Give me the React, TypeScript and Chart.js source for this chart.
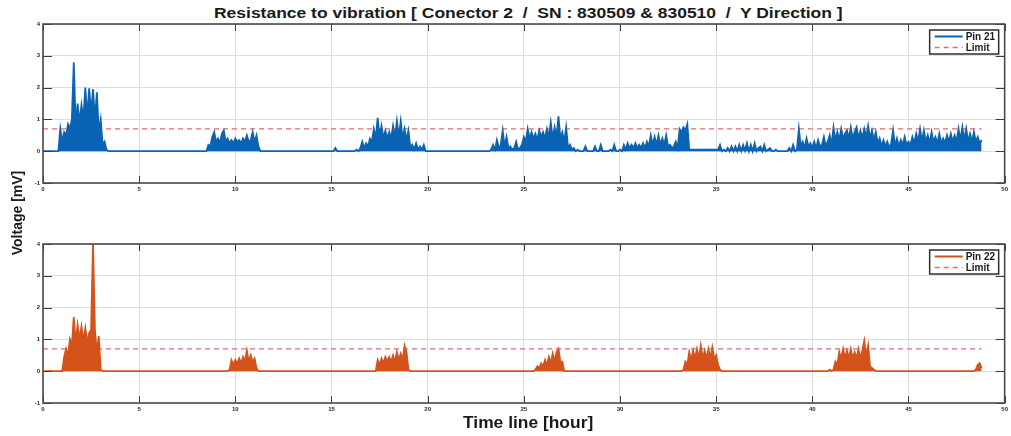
import React, { useEffect, useLayoutEffect, useRef } from "react";
import { Chart, registerables } from "chart.js";

Chart.register(...registerables);

const FONT = '"Liberation Sans", Arial, Helvetica, sans-serif';

const TITLE = "Resistance to vibration [ Conector 2  /  SN : 830509 & 830510  /  Y Direction ]";
const Y_LABEL = "Voltage [mV]";
const X_LABEL = "Time line [hour]";

const HOURS_MIN = 0;
const HOURS_MAX = 50;
const HOURS_STEP = 5;
const MV_MIN = -1;
const MV_MAX = 4;
const MV_STEP = 1;

const LIMIT_MV = 0.7;
const TEST_END_H = 48.8;
const SAMPLE_H = 0.1; // readings inside an active stretch are 0.1 h apart (peak / floor pairs)

const PIN21_LABEL = "Pin 21";
const PIN22_LABEL = "Pin 22";
const LIMIT_LABEL = "Limit";

// Pin 21 readings in mV
const pin21Run1: number[] = [0, 0.7, 0.3, 0.6, 0.5, 0.85, 0.7, 1.0, 2.8, 0.8, 1.5, 0.9, 1.45, 1.0, 2.0, 1.1, 1.98, 1.2, 1.95, 1.0, 1.85, 0.6, 1.0, 0.2, 0.3, 0.05, 0];
const pin21Run2: number[] = [0, 0.2, 0.15, 0.45, 0.6, 0.3, 0.4, 0.25, 0.55, 0.65, 0.3, 0.4, 0.25, 0.35, 0.25, 0.4, 0.3, 0.35, 0.25, 0.4, 0.3, 0.5, 0.3, 0.35, 0.6, 0.3, 0.5, 0.15, 0];
const pin21Blip: number[] = [0, 0.1, 0];
const pin21Run3: number[] = [0, 0.05, 0, 0.1, 0.3, 0.1, 0.25, 0.15, 0.4, 0.3, 0.7, 0.4, 1.05, 0.45, 0.8, 0.4, 0.65, 0.4, 0.6, 0.4, 0.8, 0.45, 0.95, 0.45, 0.95, 0.4, 0.7, 0.35, 0.65, 0.1, 0.2, 0.05, 0.25, 0.05, 0.15, 0.05, 0.2, 0];
const pin21Run4: number[] = [
  0, 0.05, 0.2, 0.05, 0.35, 0.1, 0.2, 0.65,
  0.15, 0.45, 0.1, 0.15, 0.05, 0.1, 0.3, 0.05, 0.1, 0.2,
  0.45, 0.3, 0.7, 0.4, 0.6, 0.4, 0.55, 0.35, 0.65, 0.45,
  0.6, 0.4, 0.7, 0.45, 0.9, 0.4, 0.75, 0.45, 1.1, 0.4,
  0.6, 0.3, 0.75, 0.1, 0.2, 0.05, 0.1, 0, 0.05, 0,
];
const pin21Run5: number[] = [
  0, 0, 0.15, 0, 0, 0, 0, 0.15, 0, 0,
  0.2, 0, 0, 0, 0, 0.05, 0, 0.2, 0, 0,
  0.05, 0, 0.2, 0.05, 0.25, 0.1, 0.2, 0.1, 0.25, 0.1,
  0.2, 0.1, 0.25, 0.1, 0.3, 0.15, 0.5, 0.2, 0.45, 0.2,
  0.5, 0.2, 0.4, 0.2, 0.5, 0.15, 0.2, 0.1, 0.15, 0.3,
];
const pin21Run6: number[] = [
  0.1, 0.7, 0.6, 0.75, 0.65, 0.85, 0.05, 0.05, 0.05, 0.05,
  0.05, 0.05, 0.05, 0.05, 0.05, 0.05, 0.05, 0.05, 0.05, 0.05,
  0.05, 0.05, 0.2, 0, 0.05, 0, 0.1, 0, 0.15, 0,
  0.15, 0, 0.2, 0, 0.2, 0.02, 0.25, 0, 0.2, 0,
  0.25, 0, 0.1, 0.15, 0, 0.2, 0, 0.05, 0.1, 0,
  0, 0.05, 0, 0, 0, 0, 0, 0, 0.1, 0,
];
const pin21Run7: number[] = [
  0.2, 0, 0.05, 0.7, 0.15, 0.3, 0.1, 0.4, 0.15, 0.25,
  0.1, 0.3, 0.1, 0.35, 0.15, 0.2, 0.45, 0.15, 0.3, 0.5,
  0.2, 0.75, 0.35, 0.6, 0.35, 0.7, 0.4, 0.55, 0.65, 0.4,
  0.75, 0.4, 0.6, 0.75, 0.4, 0.65, 0.4, 0.7, 0.45, 0.8,
  0.4, 0.65, 0.35, 0.6, 0.25, 0.4, 0.15, 0.35, 0.15, 0.3,
  0.1, 0.25, 0.65, 0.15, 0.4, 0.15, 0.35, 0.2, 0.45, 0.2,
  0.3, 0.2, 0.45, 0.25, 0.55, 0.3, 0.7, 0.3, 0.65, 0.3,
  0.5, 0.25, 0.6, 0.3, 0.45, 0.25, 0.55, 0.25, 0.4, 0.25,
  0.5, 0.3, 0.55, 0.3, 0.5, 0.3, 0.7, 0.35, 0.75, 0.35,
  0.7, 0.3, 0.55, 0.3, 0.6, 0.3, 0.45, 0.25, 0.35,
];

// Pin 22 readings in mV
const pin22Run1: number[] = [0, 0.45, 0.7, 0.5, 1.0, 0.8, 1.7, 0.9, 1.45, 1.0, 1.4, 0.95, 1.35, 0.9, 1.2, 1.3, 4.0, 1.3, 0.6, 1.1, 0.05, 0];
const pin22Run2: number[] = [0, 0.05, 0.35, 0.2, 0.35, 0.25, 0.4, 0.25, 0.45, 0.3, 0.65, 0.3, 0.5, 0.3, 0.4, 0.1, 0];
const pin22Run3: number[] = [0, 0.35, 0.2, 0.4, 0.25, 0.45, 0.3, 0.45, 0.3, 0.5, 0.3, 0.6, 0.35, 0.55, 0.35, 0.8, 0.6, 0.05, 0];
const pin22Run4: number[] = [0, 0.05, 0.15, 0.1, 0.25, 0.15, 0.35, 0.2, 0.45, 0.25, 0.55, 0.3, 0.6, 0.7, 0.3, 0.3, 0];
const pin22Run5: number[] = [0, 0.05, 0.3, 0.2, 0.6, 0.35, 0.65, 0.4, 0.7, 0.4, 0.8, 0.4, 0.65, 0.4, 0.7, 0.4, 0.75, 0.4, 0.5, 0.2, 0.05, 0];
const pin22Run6: number[] = [0, 0.05, 0, 0.05, 0.3, 0.2, 0.6, 0.4, 0.7, 0.4, 0.65, 0.4, 0.7, 0.4, 0.6, 0.4, 0.7, 0.4, 0.65, 0.95, 0.45, 0.8, 0.15, 0.1, 0.05, 0];
const pin22Run7: number[] = [0, 0.05, 0.2, 0.25, 0.1];

type Run = [number, number[]];

// [start hour, readings]
const pin21Runs: Run[] = [
  [0.8, pin21Run1],
  [8.5, pin21Run2],
  [15.1, pin21Blip],
  [16.2, pin21Run3],
  [23.2, pin21Run4],
  [28.0, pin21Run5],
  [33.0, pin21Run6],
  [39.0, pin21Run7],
];

const pin22Runs: Run[] = [
  [1.0, pin22Run1],
  [9.6, pin22Run2],
  [17.3, pin22Run3],
  [25.5, pin22Run4],
  [33.2, pin22Run5],
  [40.8, pin22Run6],
  [48.4, pin22Run7],
];

const PIN21_COLOR = "#0a63b3";
const PIN22_COLOR = "#d5531a";
const LIMIT_COLOR = "#e36b6b";

function toPoints(runs: Run[]) {
  const pts: { x: number; y: number }[] = [{ x: HOURS_MIN, y: 0 }];
  runs.forEach(([start, readings]) => {
    readings.forEach((mv, i) => {
      pts.push({ x: +(start + i * SAMPLE_H).toFixed(2), y: mv });
    });
  });
  const last = pts[pts.length - 1];
  if (last.x < TEST_END_H) pts.push({ x: TEST_END_H, y: 0 });
  return pts;
}

// Boxed axes with inward ticks and an in-plot legend, drawn over the data.
const boxPlugin = {
  id: "boxedAxes",
  afterDatasetsDraw(chart: any, _args: any, opts: any) {
    const { ctx, chartArea: a, scales } = chart;
    ctx.save();

    ctx.strokeStyle = "#3a3a3a";
    ctx.lineWidth = 1;
    ctx.beginPath();
    for (let h = HOURS_MIN; h <= HOURS_MAX; h += HOURS_STEP) {
      const px = Math.round(scales.x.getPixelForValue(h)) + 0.5;
      ctx.moveTo(px, a.bottom);
      ctx.lineTo(px, a.bottom - 7);
      ctx.moveTo(px, a.top);
      ctx.lineTo(px, a.top + 7);
    }
    for (let v = MV_MIN; v <= MV_MAX; v += MV_STEP) {
      const py = Math.round(scales.y.getPixelForValue(v)) + 0.5;
      ctx.moveTo(a.left, py);
      ctx.lineTo(a.left + 9, py);
      ctx.moveTo(a.right, py);
      ctx.lineTo(a.right - 9, py);
    }
    ctx.stroke();

    ctx.lineWidth = 1.6;
    ctx.strokeStyle = "#4a4a4a";
    ctx.strokeRect(a.left, a.top, a.right - a.left, a.bottom - a.top);

    const w = 69;
    const h = 24;
    const x0 = a.right - 6 - w;
    const y0 = a.top + 6;
    ctx.fillStyle = "#ffffff";
    ctx.fillRect(x0, y0, w, h);
    ctx.lineWidth = 1.5;
    ctx.strokeStyle = "#2e2e2e";
    ctx.strokeRect(x0, y0, w, h);

    const rows = [
      { text: opts.label, color: opts.color, dash: [] as number[], width: 2 },
      { text: LIMIT_LABEL, color: LIMIT_COLOR, dash: [5, 4], width: 1.5 },
    ];
    ctx.font = `bold 10px ${FONT}`;
    ctx.textBaseline = "middle";
    ctx.textAlign = "left";
    rows.forEach((r, i) => {
      const yy = y0 + 6.5 + i * 11;
      ctx.beginPath();
      ctx.setLineDash(r.dash);
      ctx.strokeStyle = r.color;
      ctx.lineWidth = r.width;
      ctx.moveTo(x0 + 5, yy);
      ctx.lineTo(x0 + 33, yy);
      ctx.stroke();
      ctx.setLineDash([]);
      ctx.fillStyle = "#1a1a1a";
      ctx.fillText(r.text, x0 + 36, yy + 0.5);
    });

    ctx.restore();
  },
};

const tickFont = { family: FONT, size: 6, weight: "bold" as const };

function PinPanel({ top, label, color, runs }: { top: number; label: string; color: string; runs: Run[] }) {
  const ref = useRef<HTMLCanvasElement>(null);

  useEffect(() => {
    const chart = new Chart(ref.current as HTMLCanvasElement, {
      type: "line",
      data: {
        datasets: [
          {
            label,
            data: toPoints(runs),
            borderColor: color,
            backgroundColor: color,
            borderWidth: 1.8,
            pointRadius: 0,
            tension: 0,
            fill: "origin",
          },
          {
            label: LIMIT_LABEL,
            data: [
              { x: HOURS_MIN, y: LIMIT_MV },
              { x: TEST_END_H, y: LIMIT_MV },
            ],
            borderColor: LIMIT_COLOR,
            borderWidth: 1.3,
            borderDash: [5, 4],
            pointRadius: 0,
            fill: false,
          },
        ],
      },
      options: {
        animation: false,
        responsive: false,
        maintainAspectRatio: false,
        events: [],
        layout: { padding: { left: 0, right: 5, top: 24, bottom: 0 } },
        plugins: {
          legend: { display: false },
          tooltip: { enabled: false },
          filler: { propagate: false },
          boxedAxes: { label, color },
        } as any,
        scales: {
          x: {
            type: "linear",
            min: HOURS_MIN,
            max: HOURS_MAX,
            afterFit: (s: any) => {
              s.height = 17;
            },
            ticks: {
              stepSize: HOURS_STEP,
              padding: 3,
              color: "#2a2a2a",
              font: tickFont,
              maxRotation: 0,
              autoSkip: false,
              callback: (v: any) => String(v),
            },
            grid: { color: "#dedede", lineWidth: 1, drawTicks: false },
            border: { display: false },
          },
          y: {
            type: "linear",
            min: MV_MIN,
            max: MV_MAX,
            afterFit: (s: any) => {
              s.width = 43;
            },
            ticks: {
              stepSize: MV_STEP,
              padding: 3,
              color: "#2a2a2a",
              font: tickFont,
              callback: (v: any) => String(v),
            },
            grid: { color: "#dedede", lineWidth: 1, drawTicks: false },
            border: { display: false },
          },
        },
      },
      plugins: [boxPlugin],
    });
    return () => chart.destroy();
  }, []);

  return (
    <canvas
      ref={ref}
      width={1011}
      height={200}
      style={{ position: "absolute", left: 0, top, width: 1011, height: 200 }}
    />
  );
}

// Text stretched horizontally to span a given width.
function SpanText({ text, left, width, top, size }: { text: string; left: number; width: number; top: number; size: number }) {
  const ref = useRef<HTMLSpanElement>(null);
  useLayoutEffect(() => {
    const el = ref.current;
    if (!el) return;
    el.style.transform = "none";
    const natural = el.offsetWidth;
    if (natural > 0) el.style.transform = `scaleX(${width / natural})`;
  }, [text, width]);
  return (
    <span
      ref={ref}
      style={{
        position: "absolute",
        left,
        top,
        whiteSpace: "pre",
        fontFamily: FONT,
        fontWeight: "bold",
        fontSize: size,
        lineHeight: `${size}px`,
        color: "#1a1a1a",
        transformOrigin: "left top",
      }}
    >
      {text}
    </span>
  );
}

export default function App() {
  return (
    <div
      style={{
        position: "absolute",
        left: 0,
        top: 0,
        width: 1011,
        height: 436,
        background: "#ffffff",
        overflow: "hidden",
      }}
    >
      <SpanText text={TITLE} left={214} width={629} top={5.5} size={14} />
      <PinPanel top={0} label={PIN21_LABEL} color={PIN21_COLOR} runs={pin21Runs} />
      <PinPanel top={220} label={PIN22_LABEL} color={PIN22_COLOR} runs={pin22Runs} />
      <div
        style={{
          position: "absolute",
          left: 17 - 70,
          top: 212.5 - 8,
          width: 140,
          height: 16,
          lineHeight: "16px",
          textAlign: "center",
          fontFamily: FONT,
          fontWeight: "bold",
          fontSize: 14,
          color: "#1a1a1a",
          transform: "rotate(-90deg)",
          transformOrigin: "center center",
          whiteSpace: "pre",
        }}
      >
        {Y_LABEL}
      </div>
      <SpanText text={X_LABEL} left={463} width={130} top={413.5} size={17} />
    </div>
  );
}
